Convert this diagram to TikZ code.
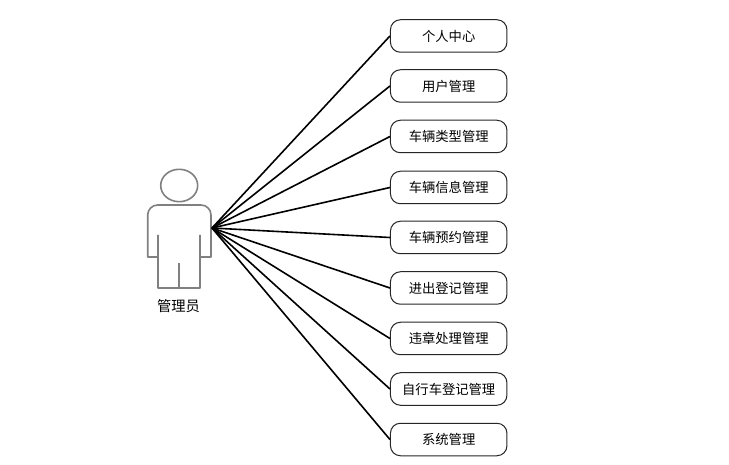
\documentclass[tikz,border=0pt]{standalone}
\usepackage{fontspec}
\setmainfont{Noto Sans CJK SC}
\tikzset{
    funcbox/.style={draw=black!85, line width=1pt, rounded corners=10pt, minimum width=116.5pt, minimum height=32.5pt, inner sep=0pt, font=\fontsize{13.3pt}{15pt}\selectfont},
    actorline/.style={draw=black!50, line width=1.6pt, line join=round},
    linkline/.style={black, line width=1.6pt}
}
\begin{document}
\begin{tikzpicture}[x=1pt, y=-1pt] % Un punto por pixel
    \useasboundingbox (0,0) rectangle (729,465);

    % Actor
    \draw[actorline] (179.2,185.5) ellipse (18.5 and 16.2);
    \draw[actorline] (158,235) -- (158,257) -- (147.7,257) -- (147.7,215) arc (180:270:10) -- (201,205) arc (-90:0:10) -- (211,257) -- (200,257) -- (200,235);
    \draw[actorline] (158,257) -- (158,288) -- (200,288) -- (200,257);
    \draw[actorline] (179,263) -- (179,288);
    \coordinate (actor) at (212,228);
    \node[font=\fontsize{14.3pt}{16pt}\selectfont] (actorname) at (178.5,306.5) {管理员};

    % Funciones
    \foreach \i/\y/\name in {1/36/个人中心, 2/86/用户管理, 3/136.5/车辆类型管理, 4/187.5/车辆信息管理, 5/237.5/车辆预约管理, 6/288/进出登记管理, 7/338.5/违章处理管理, 8/389/自行车登记管理, 9/439.5/系统管理} {
        \node[funcbox] (func\i) at (448.7,\y) {\name};
        \draw[linkline] (actor) -- (func\i.west);
    }
\end{tikzpicture}
\end{document}
